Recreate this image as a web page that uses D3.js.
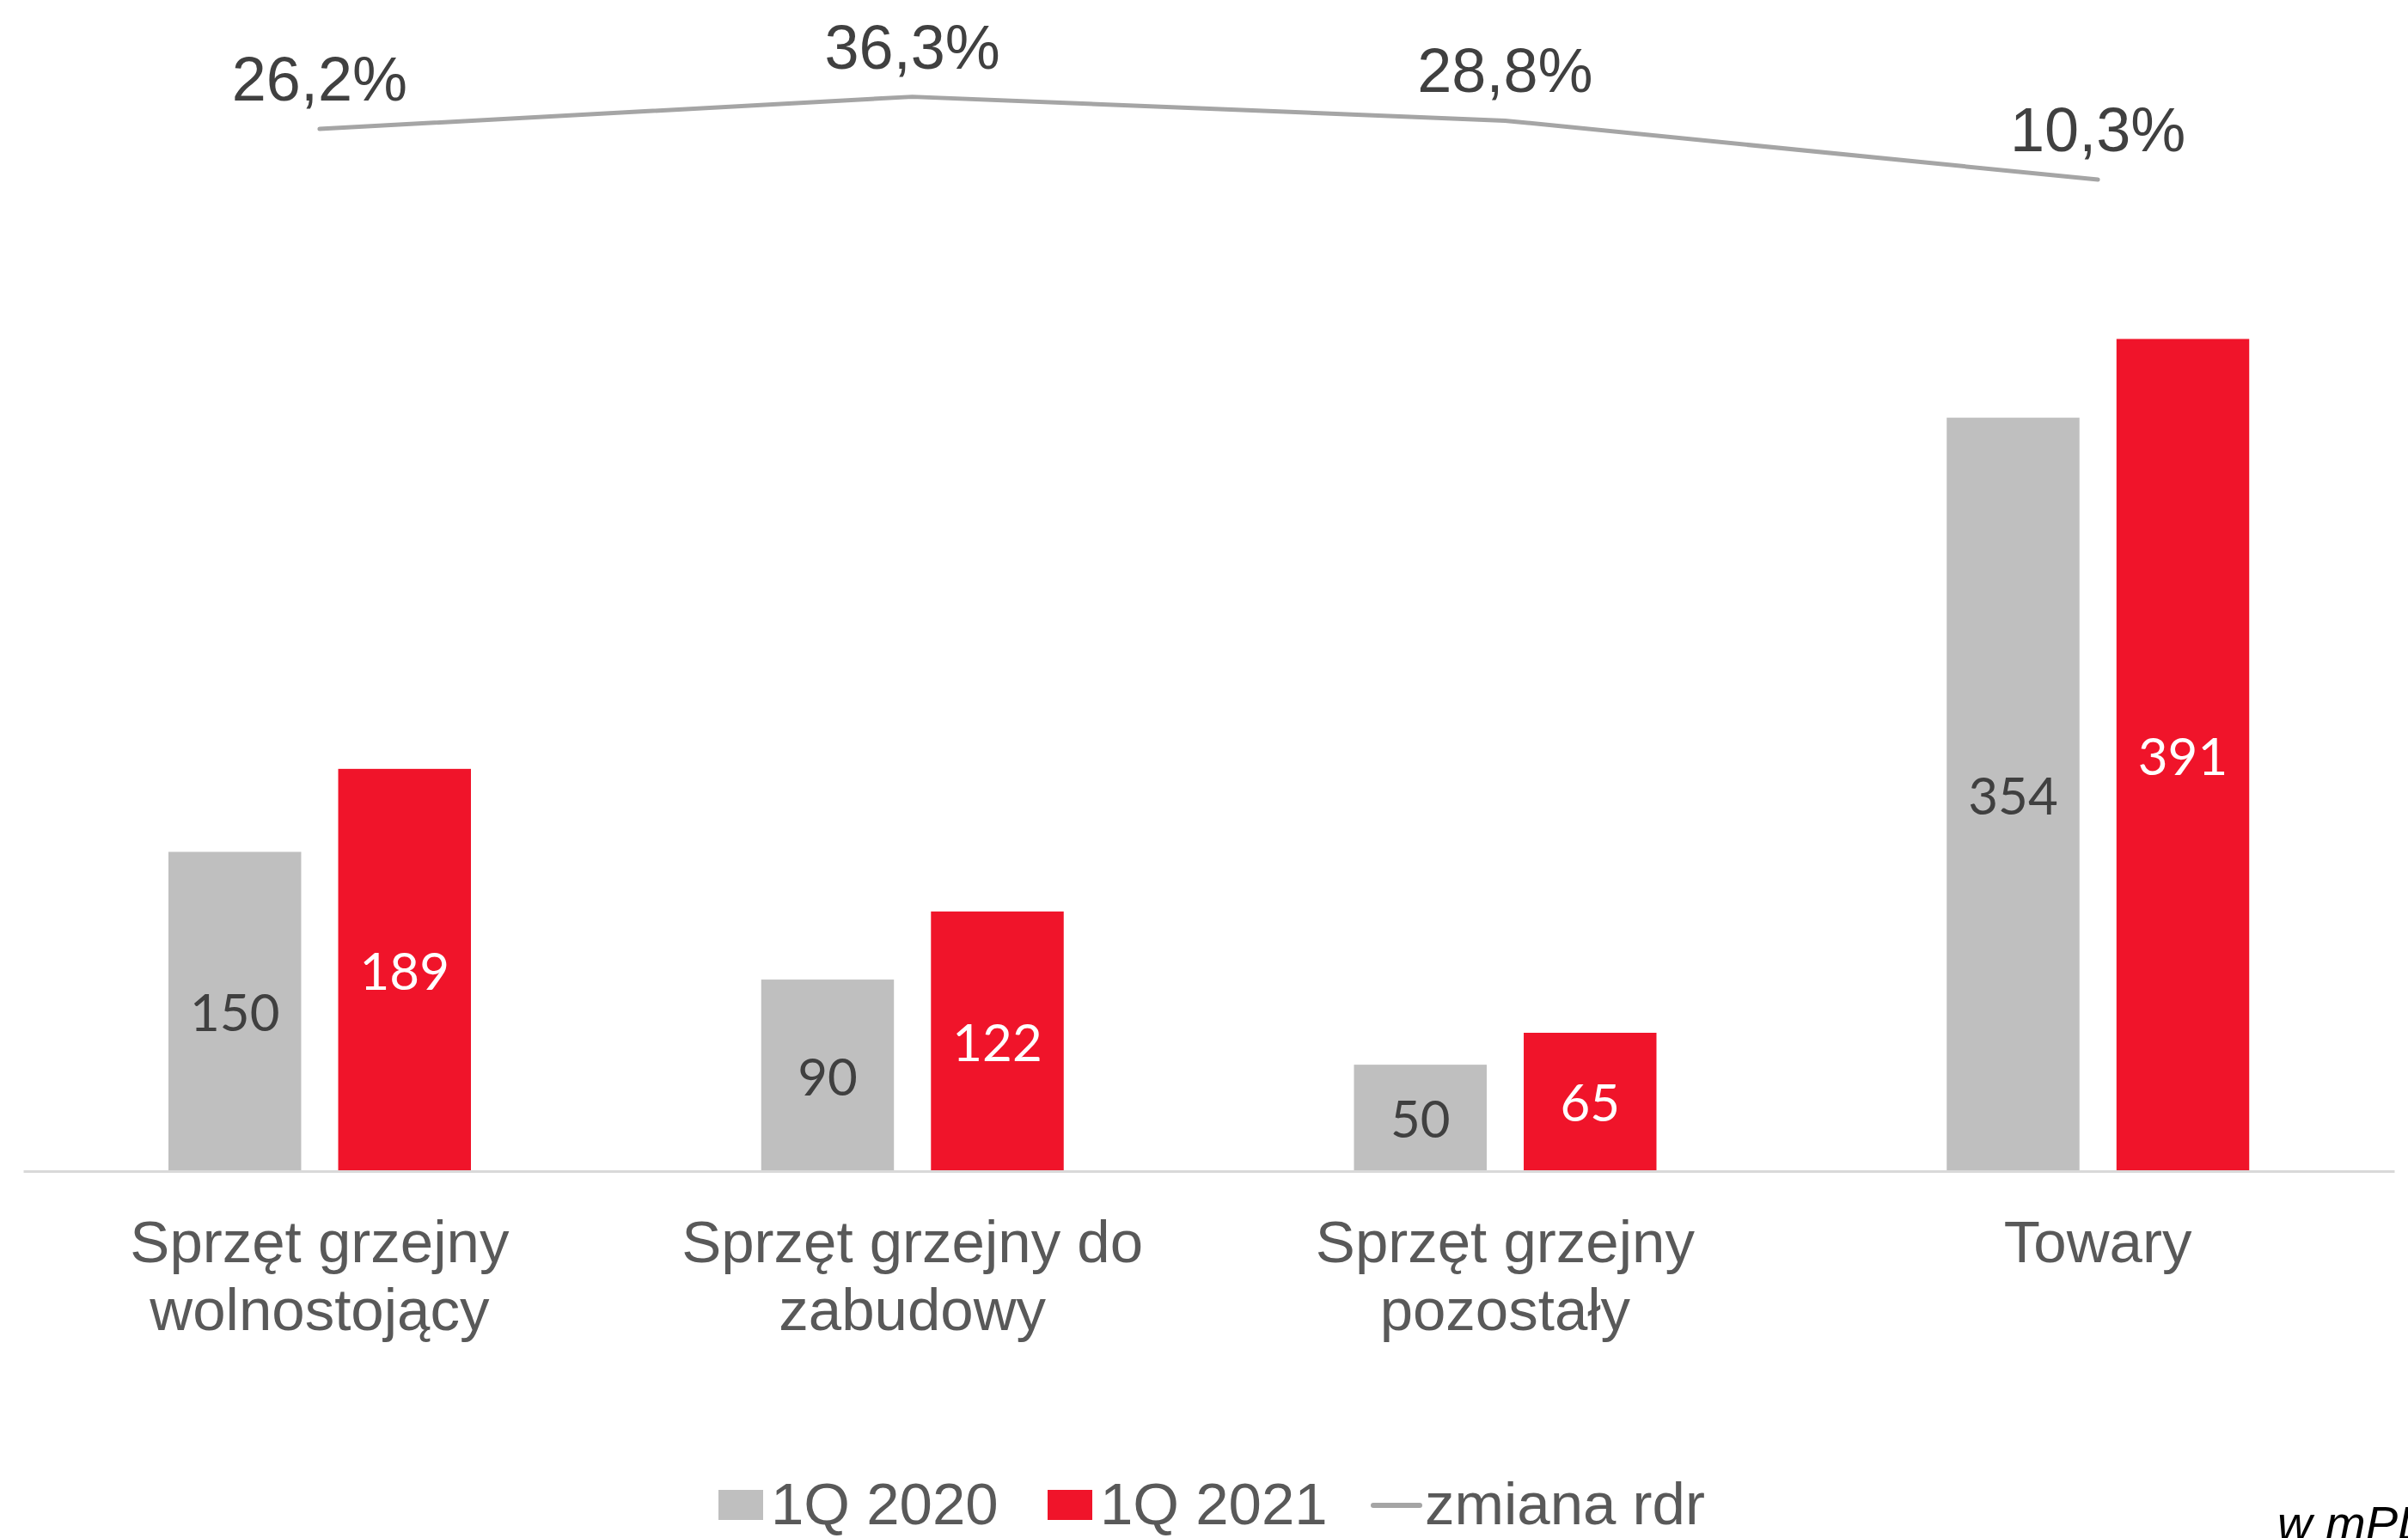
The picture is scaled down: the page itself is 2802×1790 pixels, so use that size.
<!DOCTYPE html>
<html>
<head>
<meta charset="utf-8">
<script src="https://cdn.jsdelivr.net/npm/d3@7"></script>
<style>
  html, body { margin: 0; padding: 0; background: #ffffff; overflow: hidden; }
  svg { display: block; }
</style>
</head>
<body>
<svg id="chart" width="2802" height="1790"></svg>
<script>
// ---- data ----
const categories = [
  ["Sprzęt grzejny", "wolnostojący"],
  ["Sprzęt grzejny do", "zabudowy"],
  ["Sprzęt grzejny", "pozostały"],
  ["Towary"]
];
const categoryKeys = ["c1", "c2", "c3", "c4"];
const seriesNames = ["1Q 2020", "1Q 2021"];
const values2020 = [150, 90, 50, 354];
const values2021 = [189, 122, 65, 391];
const changeYoY = [26.2, 36.3, 28.8, 10.3];
const changeLabels = ["26,2%", "36,3%", "28,8%", "10,3%"];
const lineName = "zmiana rdr";
const unitNote = "w mPLN";

// ---- styles ----
const W = 2802, H = 1790;
const colGray = "#bfbfbf", colRed = "#f0142a", colLine = "#a5a5a5";
const textDark = "#404040", textMid = "#595959";
const sans = "'Liberation Sans', Arial, sans-serif";
const numFont = "Lato, 'Open Sans', sans-serif";

const svg = d3.select("#chart");
svg.append("rect").attr("width", W).attr("height", H).attr("fill", "#fff");

const baseY = 1363;
const x0 = d3.scaleBand().domain(categoryKeys).range([27, 2786]).padding(0);
const x1 = d3.scaleBand().domain(seriesNames).range([169, 521]).paddingInner(0.218).paddingOuter(0);
const y = d3.scaleLinear().domain([0, 400]).range([baseY, baseY - 400 * 2.477]);
const y2 = d3.scaleLinear().domain([0, 40]).range([247.3, 247.3 - 40 * 3.71]);

const seriesValues = [values2020, values2021];
const seriesColors = [colGray, colRed];
const labelColors = [textDark, "#ffffff"];

// bars
seriesNames.forEach((s, si) => {
  const g = svg.append("g");
  g.selectAll("rect").data(categoryKeys).join("rect")
    .attr("x", d => x0(d) + x1(s))
    .attr("y", (d, i) => y(seriesValues[si][i]))
    .attr("width", x1.bandwidth())
    .attr("height", (d, i) => y(0) - y(seriesValues[si][i]))
    .attr("fill", seriesColors[si]);
  g.selectAll("text").data(categoryKeys).join("text")
    .attr("x", d => x0(d) + x1(s) + x1.bandwidth() / 2)
    .attr("y", (d, i) => (y(seriesValues[si][i]) + y(0)) / 2)
    .attr("text-anchor", "middle")
    .attr("dominant-baseline", "central")
    .attr("font-family", numFont)
    .attr("font-size", 60)
    .attr("fill", labelColors[si])
    .text((d, i) => seriesValues[si][i]);
});

// baseline axis
const xAxis = d3.axisBottom(x0).tickSize(0).tickFormat("");
const axG = svg.append("g").attr("transform", `translate(0,${baseY})`).call(xAxis);
axG.select(".domain").attr("stroke", "#d9d9d9").attr("stroke-width", 3);

// category labels
const catG = svg.append("g");
categoryKeys.forEach((k, i) => {
  const t = catG.append("text")
    .attr("x", x0(k) + x0.bandwidth() / 2)
    .attr("y", 1469)
    .attr("text-anchor", "middle")
    .attr("font-family", sans)
    .attr("font-size", 69)
    .attr("fill", textMid);
  categories[i].forEach((line, li) => {
    t.append("tspan").attr("x", x0(k) + x0.bandwidth() / 2).attr("dy", li === 0 ? 0 : 79).text(line);
  });
});

// line
const lineGen = d3.line()
  .x((d, i) => x0(categoryKeys[i]) + x0.bandwidth() / 2)
  .y(d => y2(d));
svg.append("path").datum(changeYoY)
  .attr("d", lineGen)
  .attr("fill", "none")
  .attr("stroke", colLine)
  .attr("stroke-width", 5)
  .attr("stroke-linecap", "round")
  .attr("stroke-linejoin", "round");
svg.append("g").selectAll("text").data(changeYoY).join("text")
  .attr("x", (d, i) => x0(categoryKeys[i]) + x0.bandwidth() / 2)
  .attr("y", d => y2(d) - 33)
  .attr("text-anchor", "middle")
  .attr("font-family", sans)
  .attr("font-size", 72)
  .attr("fill", textDark)
  .text((d, i) => changeLabels[i]);

// legend
const leg = svg.append("g").attr("font-family", sans).attr("font-size", 69).attr("fill", textMid);
const legItems = [
  { type: "rect", color: colGray, sx: 836, tx: 897, label: seriesNames[0] },
  { type: "rect", color: colRed, sx: 1219, tx: 1280, label: seriesNames[1] },
  { type: "line", color: colLine, sx: 1598, tx: 1658, label: lineName }
];
legItems.forEach(it => {
  if (it.type === "rect") {
    leg.append("rect").attr("x", it.sx).attr("y", 1734).attr("width", 52).attr("height", 35).attr("fill", it.color);
  } else {
    leg.append("line").attr("x1", it.sx).attr("x2", it.sx + 54).attr("y1", 1752).attr("y2", 1752)
      .attr("stroke", it.color).attr("stroke-width", 6).attr("stroke-linecap", "round");
  }
  leg.append("text").attr("x", it.tx).attr("y", 1774).text(it.label);
});

// unit note (cut off at the right/bottom edge, as in the reference)
svg.append("text")
  .attr("x", 2650).attr("y", 1792)
  .attr("font-family", sans)
  .attr("font-size", 56)
  .attr("font-style", "italic")
  .attr("fill", "#000")
  .text(unitNote);
</script>
</body>
</html>
